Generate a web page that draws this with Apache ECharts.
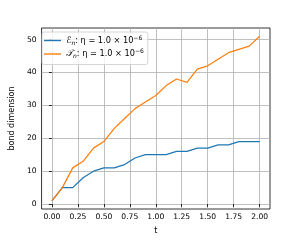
<!DOCTYPE html>
<html><head><meta charset="utf-8">
<script src="https://cdn.jsdelivr.net/npm/echarts@6/dist/echarts.min.js"></script>
<style>html,body{margin:0;padding:0;background:#fff}#c{width:300px;height:240px}</style>
</head><body><div id="c"></div>
<script>
const tValues = [0.0,0.1,0.2,0.3,0.4,0.5,0.6,0.7,0.8,0.9,1.0,1.1,1.2,1.3,1.4,1.5,1.6,1.7,1.8,1.9,2.0];
const energyBond = [1,5,5,8,10,11,11,12,14,15,15,15,16,16,17,17,18,18,19,19,19];
const fidelityBond = [1,5,11,13,17,19,23,26,29,31,33,36,38,37,41,42,44,46,47,48,51];
const xTicks = [0,0.25,0.5,0.75,1.0,1.25,1.5,1.75,2.0];
const yTicks = [0,10,20,30,40,50];
const nameE = 'ℰn: η = 1.0 × 10^−6';
const nameT = '𝒯n: η = 1.0 × 10^−6';

const font = 'DejaVu Sans';
const chart = echarts.init(document.getElementById('c'), null, {renderer:'canvas'});
const axisCommon = {
  axisLine:{show:false},
  axisTick:{show:true, inside:false, length:3, lineStyle:{color:'#000', width:0.8}},
  splitLine:{show:true, lineStyle:{color:'#b0b0b0', width:0.8}},
  nameTextStyle:{fontFamily:font, fontSize:8, color:'#000'}
};
function legendFmt(n){
  const sym = n.charAt(0) === 'ℰ' ? 'ℰ' : '𝒯';
  return '{s|' + sym + '}{sub|n}{m|: η = 1.0 × 10}{sup|−6}';
}
chart.setOption({
  animation:false,
  grid:{left:37, right:30, top:28, bottom:27, show:true, borderColor:'#000', borderWidth:0.8, backgroundColor:'transparent'},
  xAxis:Object.assign({}, axisCommon, {
    type:'value', min:-0.1, max:2.1,
    name:'t', nameLocation:'middle', nameGap:18,
    axisTick:Object.assign({}, axisCommon.axisTick, {customValues:xTicks}),
    axisLabel:{customValues:xTicks, margin:4, fontFamily:font, fontSize:7.6, color:'#000', formatter:v=>v.toFixed(2)}
  }),
  yAxis:Object.assign({}, axisCommon, {
    type:'value', min:-1.5, max:53.5,
    name:'bond dimension', nameLocation:'middle', nameGap:22,
    axisTick:Object.assign({}, axisCommon.axisTick, {customValues:yTicks}),
    axisLabel:{customValues:yTicks, margin:5, fontFamily:font, fontSize:7.6, color:'#000'}
  }),
  legend:{
    orient:'vertical', left:42, top:32, icon:'rect', itemWidth:17, itemHeight:1.4, itemGap:2.5,
    padding:[3,4,5,2], backgroundColor:'rgba(255,255,255,0.8)', borderColor:'#cccccc', borderWidth:0.8, borderRadius:2,
    formatter:legendFmt,
    textStyle:{fontFamily:font, fontSize:8.2, color:'#000', lineHeight:11,
      rich:{
        s:{fontFamily:font, fontSize:9, fontStyle:'italic', lineHeight:11, color:'#000'},
        sub:{fontFamily:font, fontSize:6, fontStyle:'italic', lineHeight:11, verticalAlign:'bottom', color:'#000'},
        m:{fontFamily:font, fontSize:8.2, lineHeight:11, color:'#000'},
        sup:{fontFamily:font, fontSize:6, lineHeight:11, verticalAlign:'top', color:'#000'}
      }},
    data:[nameE, nameT]
  },
  series:[
    {name:nameE, type:'line', data:tValues.map((t,i)=>[t,energyBond[i]]), symbol:'none', lineStyle:{color:'#1f77b4', width:1.25}, itemStyle:{color:'#1f77b4'}},
    {name:nameT, type:'line', data:tValues.map((t,i)=>[t,fidelityBond[i]]), symbol:'none', lineStyle:{color:'#ff7f0e', width:1.25}, itemStyle:{color:'#ff7f0e'}}
  ]
});
</script></body></html>
